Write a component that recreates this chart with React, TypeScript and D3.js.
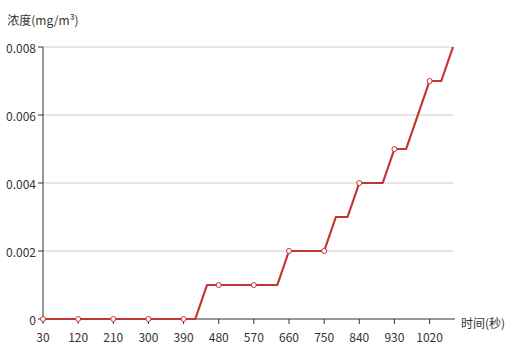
import React from "react";
import * as d3 from "d3";

const times: number[] = [30,60,90,120,150,180,210,240,270,300,330,360,390,420,450,480,510,540,570,600,630,660,690,720,750,780,810,840,870,900,930,960,990,1020,1050,1080];
const concentration: number[] = [0,0,0,0,0,0,0,0,0,0,0,0,0,0,0.001,0.001,0.001,0.001,0.001,0.001,0.001,0.002,0.002,0.002,0.002,0.003,0.003,0.004,0.004,0.004,0.005,0.005,0.006,0.007,0.007,0.008];
const yTicks: number[] = [0, 0.002, 0.004, 0.006, 0.008];
const yTickLabels: string[] = ["0", "0.002", "0.004", "0.006", "0.008"];
const yAxisName = "浓度(mg/m³)";
const xAxisName = "时间(秒)";
const labelInterval = 3;

const W = 505, H = 345;
const left = 43, right = 453, top = 47, bottom = 319;
const font = "'Noto Sans CJK SC', 'Noto Sans', sans-serif";

export default function App() {
  const x = d3.scalePoint<number>().domain(times).range([left, right]);
  const y = d3.scaleLinear().domain([0, 0.008]).range([bottom, top]);
  const line = d3.line<number>().x((_, i) => x(times[i])!).y((d) => y(d));
  const path = line(concentration) || "";
  const labeled = times.filter((_, i) => i % labelInterval === 0);
  return (
    <svg width={W} height={H} style={{ position: "absolute", left: 0, top: 0 }} fontFamily={font}>
      <rect width={W} height={H} fill="#fff" />
      {yTicks.slice(1).map((t) => (
        <line key={"g" + t} x1={left} x2={right} y1={y(t)} y2={y(t)} stroke="#ccc" strokeWidth={1} />
      ))}
      <line x1={left} x2={left} y1={top} y2={bottom} stroke="#333" strokeWidth={1} />
      {yTicks.map((t, i) => (
        <g key={"y" + t}>
          <line x1={left - 5} x2={left} y1={y(t)} y2={y(t)} stroke="#333" />
          <text x={left - 7} y={y(t)} textAnchor="end" dominantBaseline="central" fontSize={12} fill="#333">
            {yTickLabels[i]}
          </text>
        </g>
      ))}
      <line x1={left} x2={right + 2} y1={bottom} y2={bottom} stroke="#333" strokeWidth={1} />
      {labeled.map((t) => (
        <g key={"x" + t}>
          <line x1={x(t)!} x2={x(t)!} y1={bottom} y2={bottom + 5} stroke="#333" />
          <text x={x(t)!} y={bottom + 17} textAnchor="middle" dominantBaseline="central" fontSize={12} fill="#333">
            {t}
          </text>
        </g>
      ))}
      <text x={left} y={19} textAnchor="middle" dominantBaseline="central" fontSize={12} fill="#333">{yAxisName}</text>
      <text x={461} y={322} textAnchor="start" dominantBaseline="central" fontSize={12} fill="#333">{xAxisName}</text>
      <path d={path} fill="none" stroke="#c23531" strokeWidth={2.2} strokeLinejoin="round" />
      {times.map((t, i) => i % labelInterval === 0 ? (
        <circle key={"c" + t} cx={x(t)!} cy={y(concentration[i])} r={2.5} fill="#fff" stroke="#c23531" strokeWidth={1} />
      ) : null)}
    </svg>
  );
}
